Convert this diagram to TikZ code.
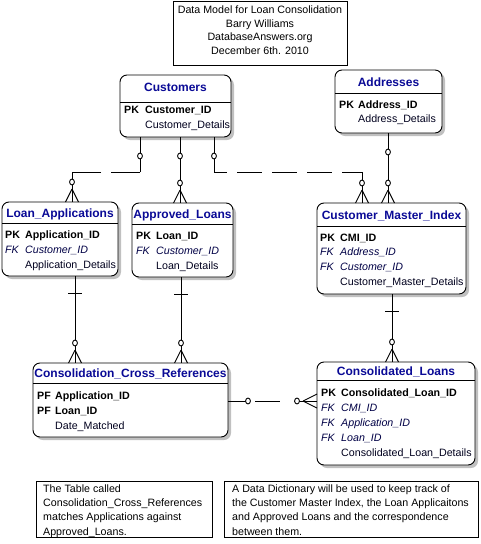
\documentclass[tikz,border=0pt]{standalone}
\usepackage{fontspec}
\setmainfont{Liberation Sans}
\usetikzlibrary{shadows,calc}
\definecolor{ttlblue}{RGB}{10,10,150}
\definecolor{attr}{RGB}{0,0,30}
\definecolor{fkc}{RGB}{0,0,70}
\definecolor{shd}{RGB}{192,192,192}
\newcommand\fbody{\fontsize{10.67}{14}\selectfont}
\newcommand\fttl{\fontsize{12}{14}\selectfont\bfseries}
\tikzset{
  rel/.style={line width=0.9pt},
  ringo/.style={rel, fill=white},
  manyN/.pic={\draw[rel] (0,-13) -- (-6.5,0) (0,-13) -- (6.5,0);
              \draw[ringo] (0,-20) ellipse [x radius=2.4, y radius=2.9];},
  zeroS/.pic={\draw[ringo] (0,19) ellipse [x radius=2.4, y radius=2.9];},
  oneS/.pic={\draw[rel] (-7,17) -- (7,17);},
  zeroE/.pic={\draw[ringo] (20,0) ellipse [x radius=2.4, y radius=2.9];},
  manyW/.pic={\draw[rel] (-14,0) -- (0,-7) (-14,0) -- (0,7);
              \draw[ringo] (-20,0) ellipse [x radius=2.4, y radius=2.9];}
}
\begin{document}
\begin{tikzpicture}[x=1pt,y=-1pt,
  entity/.style={draw, line width=0.9pt, rounded corners=7pt, fill=white, outer sep=0pt, inner sep=0pt, anchor=north west,
     drop shadow={shadow xshift=3pt, shadow yshift=-3pt, fill=shd, opacity=1}},
  ttl/.style={anchor=base, inner sep=0pt, font=\fttl, text=ttlblue},
  kw/.style={anchor=base west, inner sep=0pt, font=\fbody\bfseries},
  fkw/.style={anchor=base west, inner sep=0pt, font=\fbody\itshape, text=fkc},
  aw/.style={anchor=base west, inner sep=0pt, font=\fbody, text=attr},
  txt/.style={anchor=base west, inner sep=0pt, font=\fbody},
  ctxt/.style={anchor=base, inner sep=0pt, font=\fbody},
  sepl/.style={line width=0.9pt},
  plainbox/.style={draw, line width=0.9pt, inner sep=0pt, outer sep=0pt, anchor=north west}
]
\useasboundingbox (0,0) rectangle (480,544);

% title box
\node[plainbox, minimum width=174pt, minimum height=64pt] (ttlbox) at (173,1) {};
\node[ctxt] (ttl1) at (260,13) {Data Model for Loan Consolidation};
\node[ctxt] (ttl2) at (260,27.3) {Barry Williams};
\node[ctxt] (ttl3) at (260,40.7) {DatabaseAnswers.org};
\node[ctxt] (ttl4) at (260,54.7) {December 6th. 2010};

% Customers
\node[entity, minimum width=111pt, minimum height=62pt] (cust) at (120,75) {};
\draw[sepl] (cust.west |- 0,102) -- (cust.east |- 0,102);
\node[ttl] (custT) at (175.5,91.5) {Customers};
\node[kw] (custK1) at (124,113) {PK};
\node[kw] (custF1) at (145,113) {Customer\_ID};
\node[aw] (custF2) at (145,128) {Customer\_Details};

% Addresses
\node[entity, minimum width=107pt, minimum height=63pt] (addr) at (335,70) {};
\draw[sepl] (addr.west |- 0,93) -- (addr.east |- 0,93);
\node[ttl] (addrT) at (388.5,86.5) {Addresses};
\node[kw] (addrK1) at (339,108) {PK};
\node[kw] (addrF1) at (358,108) {Address\_ID};
\node[aw] (addrF2) at (358,122) {Address\_Details};

% Loan_Applications
\node[entity, minimum width=116pt, minimum height=74pt] (la) at (2,202) {};
\draw[sepl] (la.west |- 0,223) -- (la.east |- 0,223);
\node[ttl] (laT) at (60,217.5) {Loan\_Applications};
\node[kw] (laK1) at (5,238) {PK};
\node[kw] (laF1) at (25,238) {Application\_ID};
\node[fkw] (laK2) at (5,253) {FK};
\node[fkw] (laF2) at (25,253) {Customer\_ID};
\node[aw] (laF3) at (25,268) {Application\_Details};

% Approved_Loans
\node[entity, minimum width=101pt, minimum height=74pt] (al) at (132,203) {};
\draw[sepl] (al.west |- 0,224) -- (al.east |- 0,224);
\node[ttl] (alT) at (182.5,218.5) {Approved\_Loans};
\node[kw] (alK1) at (136,239.5) {PK};
\node[kw] (alF1) at (156,239.5) {Loan\_ID};
\node[fkw] (alK2) at (136,254) {FK};
\node[fkw] (alF2) at (156,254) {Customer\_ID};
\node[aw] (alF3) at (156,269) {Loan\_Details};

% Customer_Master_Index
\node[entity, minimum width=149pt, minimum height=91pt] (cmi) at (317,203) {};
\draw[sepl] (cmi.west |- 0,226) -- (cmi.east |- 0,226);
\node[ttl] (cmiT) at (391.5,219.5) {Customer\_Master\_Index};
\node[kw] (cmiK1) at (320,241) {PK};
\node[kw] (cmiF1) at (340,241) {CMI\_ID};
\node[fkw] (cmiK2) at (320,255.5) {FK};
\node[fkw] (cmiF2) at (340,255.5) {Address\_ID};
\node[fkw] (cmiK3) at (320,270.5) {FK};
\node[fkw] (cmiF3) at (340,270.5) {Customer\_ID};
\node[aw] (cmiF4) at (340,285.5) {Customer\_Master\_Details};

% Consolidation_Cross_References
\node[entity, minimum width=195pt, minimum height=74pt] (ccr) at (33,363) {};
\draw[sepl] (ccr.west |- 0,383) -- (ccr.east |- 0,383);
\node[ttl] (ccrT) at (130.5,377.5) {Consolidation\_Cross\_References};
\node[kw] (ccrK1) at (37,399) {PF};
\node[kw] (ccrF1) at (55,399) {Application\_ID};
\node[kw] (ccrK2) at (37,414) {PF};
\node[kw] (ccrF2) at (55,414) {Loan\_ID};
\node[aw] (ccrF3) at (55,429) {Date\_Matched};

% Consolidated_Loans
\node[entity, minimum width=158pt, minimum height=103pt] (cl) at (317,362) {};
\draw[sepl] (cl.west |- 0,380) -- (cl.east |- 0,380);
\node[ttl] (clT) at (396,375.5) {Consolidated\_Loans};
\node[kw] (clK1) at (321,396) {PK};
\node[kw] (clF1) at (341,396) {Consolidated\_Loan\_ID};
\node[fkw] (clK2) at (321,411) {FK};
\node[fkw] (clF2) at (341,411) {CMI\_ID};
\node[fkw] (clK3) at (321,426) {FK};
\node[fkw] (clF3) at (341,426) {Application\_ID};
\node[fkw] (clK4) at (321,441) {FK};
\node[fkw] (clF4) at (341,441) {Loan\_ID};
\node[aw] (clF5) at (341,456) {Consolidated\_Loan\_Details};

% notes
\node[plainbox, minimum width=176pt, minimum height=56pt] (note1) at (36,481) {};
\node[txt] (n1a) at (43,492) {The Table called};
\node[txt] (n1b) at (43,506.3) {Consolidation\_Cross\_References};
\node[txt] (n1c) at (43,520.7) {matches Applications against};
\node[txt] (n1d) at (43,535) {Approved\_Loans.};
\node[plainbox, minimum width=254pt, minimum height=56pt] (note2) at (224,481) {};
\node[txt] (n2a) at (232,492) {A Data Dictionary will be used to keep track of};
\node[txt] (n2b) at (232,506.3) {the Customer Master Index, the Loan Applicaitons};
\node[txt] (n2c) at (232,520.7) {and Approved Loans and the correspondence};
\node[txt] (n2d) at (232,535) {between them.};

% connectors
% Customers -> Loan_Applications (non-identifying)
\coordinate (a1) at (140,172);
\coordinate (a2) at (72,172);
\draw[rel] (cust.south -| 140,0) -- (a1);
\draw[rel, dash pattern=on 29pt off 10pt] (a1) -- (a2);
\draw[rel] (a2) -- (la.north -| 72,0);
\pic at (cust.south -| 140,0) {zeroS};
\pic at (la.north -| 72,0) {manyN};

% Customers -> Approved_Loans
\draw[rel] (cust.south -| 180,0) -- (al.north -| 180,0);
\pic at (cust.south -| 180,0) {zeroS};
\pic at (al.north -| 180,0) {manyN};

% Customers -> Customer_Master_Index (non-identifying)
\coordinate (c1) at (214,172);
\coordinate (c2) at (362,172);
\draw[rel] (cust.south -| 214,0) -- (c1);
\draw[rel, dash pattern=on 25pt off 10pt, dash phase=12pt] (c1) -- (c2);
\draw[rel] (c2) -- (cmi.north -| 362,0);
\pic at (cust.south -| 214,0) {zeroS};
\pic at (cmi.north -| 362,0) {manyN};

% Addresses -> Customer_Master_Index
\draw[rel] (addr.south -| 388,0) -- (cmi.north -| 388,0);
\pic at (addr.south -| 388,0) {zeroS};
\pic at (cmi.north -| 388,0) {manyN};

% Loan_Applications -> CCR
\draw[rel] (la.south -| 75,0) -- (ccr.north -| 75,0);
\pic at (la.south -| 75,0) {oneS};
\pic at (ccr.north -| 75,0) {manyN};

% Approved_Loans -> CCR
\draw[rel] (al.south -| 181,0) -- (ccr.north -| 181,0);
\pic at (al.south -| 181,0) {oneS};
\pic at (ccr.north -| 181,0) {manyN};

% CMI -> Consolidated_Loans
\draw[rel] (cmi.south -| 392,0) -- (cl.north -| 392,0);
\pic at (cmi.south -| 392,0) {oneS};
\pic at (cl.north -| 392,0) {manyN};

% CCR -> Consolidated_Loans (non-identifying)
\draw[rel, dash pattern=on 20pt off 7pt on 25pt off 14pt on 40pt off 1pt] (ccr.east |- 0,401) -- (cl.west |- 0,401);
\pic at (ccr.east |- 0,401) {zeroE};
\pic at (cl.west |- 0,401) {manyW};
\end{tikzpicture}
\end{document}
